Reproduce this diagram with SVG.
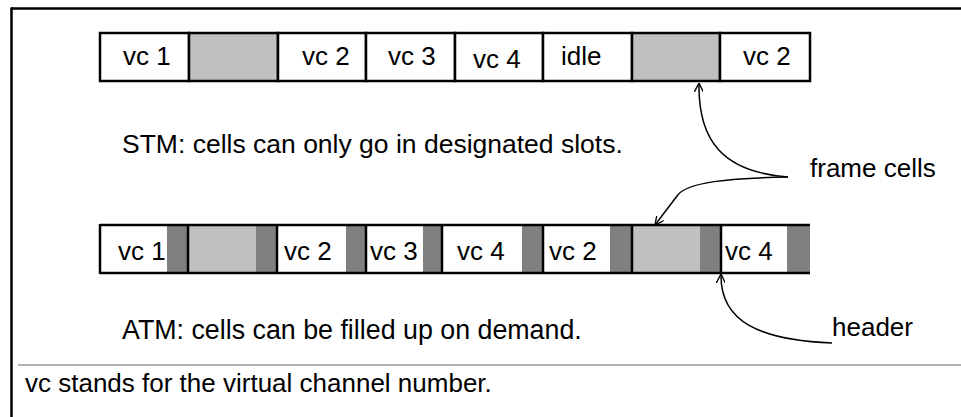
<svg xmlns="http://www.w3.org/2000/svg" width="961" height="417" viewBox="0 0 961 417">
<defs>
<style>
.t{font-family:"Liberation Sans",Arial,sans-serif;font-size:26px;fill:#000}
.cell{stroke:#000;stroke-width:2.5}
.w{fill:#fff}
.lg{fill:#c0c0c0}
.dg{fill:#808080}
.div{stroke:#000;stroke-width:2.5}
.arr{fill:none;stroke:#000;stroke-width:1.5;marker-end:url(#ah)}
</style>
<marker id="ah" viewBox="0 0 10 10" refX="10" refY="5" markerWidth="9" markerHeight="9" markerUnits="userSpaceOnUse" orient="auto">
<path d="M0,0 L10,5 L0,10" fill="none" stroke="#000" stroke-width="1.5"/>
</marker>
</defs>
<rect width="961" height="417" fill="#fff"/>
<g id="frame">
<line x1="11" y1="8.5" x2="961" y2="8.5" stroke="#000" stroke-width="2.5"/>
<line x1="11.5" y1="7.5" x2="11.5" y2="417" stroke="#000" stroke-width="2.5"/>
<line x1="18" y1="365" x2="961" y2="365" stroke="#999" stroke-width="1.5"/>
</g>
<g id="stm-row">
<g id="stm-vc1"><rect class="cell w" x="100" y="33" width="89" height="48"/><text class="t" x="123" y="65">vc 1</text></g>
<g id="stm-empty1"><rect class="cell lg" x="189" y="33" width="89" height="48"/></g>
<g id="stm-vc2"><rect class="cell w" x="278" y="33" width="88" height="48"/><text class="t" x="302" y="65">vc 2</text></g>
<g id="stm-vc3"><rect class="cell w" x="366" y="33" width="89" height="48"/><text class="t" x="388" y="65">vc 3</text></g>
<g id="stm-vc4"><rect class="cell w" x="455" y="33" width="88" height="48"/><text class="t" x="473" y="68">vc 4</text></g>
<g id="stm-idle"><rect class="cell w" x="543" y="33" width="89" height="48"/><text class="t" x="561" y="65">idle</text></g>
<g id="stm-empty2"><rect class="cell lg" x="632" y="33" width="88" height="48"/></g>
<g id="stm-vc2b"><rect class="cell w" x="720" y="33" width="90" height="48"/><text class="t" x="743" y="65">vc 2</text></g>
</g>
<g id="stm-label"><text class="t" x="122" y="153" style="font-size:26.5px">STM: cells can only go in designated slots.</text></g>
<g id="atm-row">
<rect x="100" y="225" width="710" height="48" fill="#fff"/>
<g id="atm-vc1"><rect class="dg" x="167" y="225" width="21" height="48"/><text class="t" x="118" y="260">vc 1</text></g>
<g id="atm-empty1"><rect class="lg" x="188" y="225" width="68" height="48"/><rect class="dg" x="256" y="225" width="21" height="48"/></g>
<g id="atm-vc2"><rect class="dg" x="346" y="225" width="20" height="48"/><text class="t" x="284" y="260">vc 2</text></g>
<g id="atm-vc3"><rect class="dg" x="423" y="225" width="19" height="48"/><text class="t" x="370" y="260">vc 3</text></g>
<g id="atm-vc4"><rect class="dg" x="522" y="225" width="21" height="48"/><text class="t" x="457" y="260">vc 4</text></g>
<g id="atm-vc2b"><rect class="dg" x="610" y="225" width="22" height="48"/><text class="t" x="549" y="260">vc 2</text></g>
<g id="atm-empty2"><rect class="lg" x="632" y="225" width="68" height="48"/><rect class="dg" x="700" y="225" width="21" height="48"/></g>
<g id="atm-vc4b"><rect class="dg" x="787" y="225" width="23" height="48"/><text class="t" x="725" y="260">vc 4</text></g>
<line class="div" x1="100" y1="225" x2="810" y2="225"/>
<line class="div" x1="100" y1="273" x2="810" y2="273"/>
<line class="div" x1="100" y1="224" x2="100" y2="274"/>
<line class="div" x1="188" y1="224" x2="188" y2="274"/>
<line class="div" x1="277" y1="224" x2="277" y2="274"/>
<line class="div" x1="366" y1="224" x2="366" y2="274"/>
<line class="div" x1="442" y1="224" x2="442" y2="274"/>
<line class="div" x1="543" y1="224" x2="543" y2="274"/>
<line class="div" x1="632" y1="224" x2="632" y2="274"/>
<line class="div" x1="721" y1="224" x2="721" y2="274"/>
</g>
<g id="atm-label"><text class="t" x="122" y="339" style="font-size:26.8px">ATM: cells can be filled up on demand.</text></g>
<g id="frame-cells-label"><text class="t" x="810" y="177">frame cells</text></g>
<g id="header-label"><text class="t" x="832" y="336">header</text></g>
<g id="note"><text class="t" x="25" y="392">vc stands for the virtual channel number.</text></g>
<g id="connectors">
<path class="arr" d="M788,177 C722,172 698,140 699,83"/>
<path class="arr" d="M788,177 C730,178 686,182 677,196 L655,225"/>
<path class="arr" d="M832,343 C760,340 720,322 721,274"/>
</g>
</svg>
